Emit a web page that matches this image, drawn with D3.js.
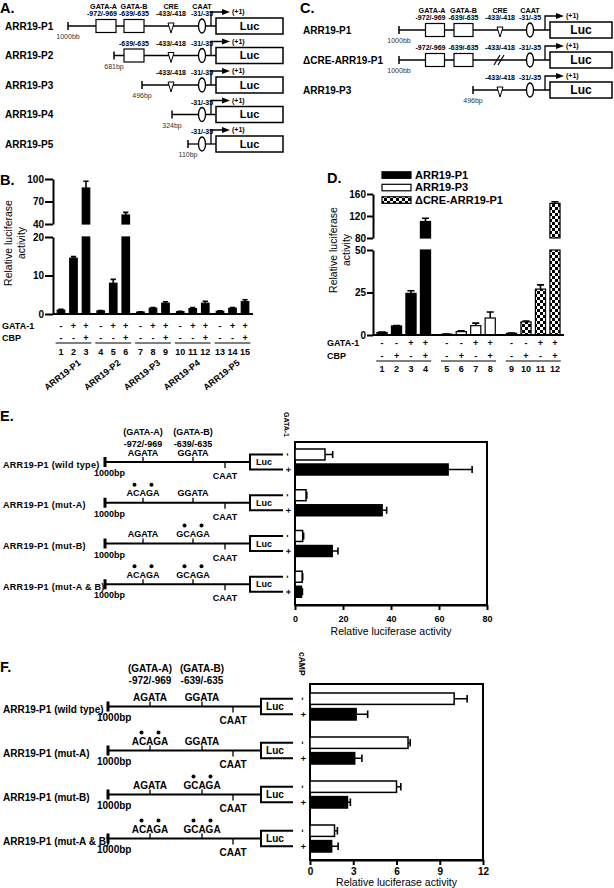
<!DOCTYPE html>
<html>
<head>
<meta charset="utf-8">
<script src="https://cdn.jsdelivr.net/npm/d3@7"></script>
<style>
body { margin: 0; background: #fff; }
svg { display: block; font-family: 'Liberation Sans', Arial, Helvetica, sans-serif; }
</style>
</head>
<body>
<svg id="fig" width="614" height="888"></svg>
<script>
var FONT = "'Liberation Sans', Arial, Helvetica, sans-serif";

// promoter constructs (panels A and C)
var aNames = ['ARR19-P1', 'ARR19-P2', 'ARR19-P3', 'ARR19-P4', 'ARR19-P5'];
var aStarts = [-1000, -681, -496, -324, -110];
var aStartText = ['1000bb', '681bp', '496bp', '324bp', '110bp'];
var cNames = ['ARR19-P1', '\u0394CRE-ARR19-P1', 'ARR19-P3'];
var cStarts = [-1000, -1000, -496];
var cStartText = ['1000bb', '1000bb', '496bp'];
var cCreDeleted = [false, true, false];
var siteNames = ['GATA-A', 'GATA-B', 'CRE', 'CAAT'];
var sitePos = [-970, -637, -425, -33];
var siteCoords = ['-972/-969', '-639/-635', '-433/-418', '-31/-35'];

// panel B
var bGroups = ['ARR19-P1', 'ARR19-P2', 'ARR19-P3', 'ARR19-P4', 'ARR19-P5'];
var bLanes = ['1', '2', '3', '4', '5', '6', '7', '8', '9', '10', '11', '12', '13', '14', '15'];
var bGata = ['-', '+', '+', '-', '+', '+', '-', '+', '+', '-', '+', '+', '-', '+', '+'];
var bCbp = ['-', '-', '+', '-', '-', '+', '-', '-', '+', '-', '-', '+', '-', '-', '+'];
var bValues = [1.0, 14.5, 88, 0.8, 8.0, 52, 0.5, 1.5, 2.8, 0.6, 1.4, 2.8, 0.7, 1.5, 3.2];
var bErrors = [0.2, 0.4, 9, 0.1, 1.0, 3.5, 0.1, 0.2, 0.4, 0.1, 0.3, 0.5, 0.1, 0.2, 0.5];
var bLowTicks = [0, 10, 20];
var bHighTicks = [40, 70, 100];

// panel D
var dSeries = ['ARR19-P1', 'ARR19-P3', '\u0394CRE-ARR19-P1'];
var dLanes = ['1', '2', '3', '4', '5', '6', '7', '8', '9', '10', '11', '12'];
var dGata = ['-', '-', '+', '+', '-', '-', '+', '+', '-', '-', '+', '+'];
var dCbp = ['-', '+', '-', '+', '-', '+', '-', '+', '-', '+', '-', '+'];
var dValues = [1.5, 5.3, 24.5, 110, 0.5, 2.0, 5.5, 10, 1.0, 7.7, 27, 143];
var dErrors = [0.2, 0.3, 1.5, 6, 0.1, 0.4, 1.5, 3.5, 0.2, 0.5, 2.5, 3];
var dLowTicks = [0, 25, 50];
var dHighTicks = [80, 120, 160];

// panels E and F
var mutNames = ['ARR19-P1 (wild type)', 'ARR19-P1 (mut-A)', 'ARR19-P1 (mut-B)', 'ARR19-P1 (mut-A & B)'];
var siteASeq = ['AGATA', 'ACAGA', 'AGATA', 'ACAGA'];
var siteBSeq = ['GGATA', 'GGATA', 'GCAGA', 'GCAGA'];
var eMinus = [12.5, 4.6, 3.2, 3.0];
var eMinusErr = [3.2, 0.3, 0.4, 0.2];
var ePlus = [63.8, 36.3, 15.5, 2.7];
var ePlusErr = [10, 1.9, 2.4, 0.4];
var eTicks = [0, 20, 40, 60, 80];
var fMinus = [10.0, 6.8, 6.0, 1.7];
var fMinusErr = [0.9, 0.15, 0.3, 0.2];
var fPlus = [3.2, 3.1, 2.6, 1.5];
var fPlusErr = [0.8, 0.5, 0.2, 0.45];
var fTicks = [0, 3, 6, 9, 12];

var svg = d3.select('#fig');

function label(g, x, y, s, size, weight, anchor) {
    return g.append('text').attr('x', x).attr('y', y).attr('dy', '0.35em')
        .attr('font-size', size).attr('font-weight', weight || 'bold')
        .attr('text-anchor', anchor || 'start').text(s);
}
function letter(x, y, s) {
    svg.append('text').attr('x', x).attr('y', y).attr('font-size', 14.5)
        .attr('font-weight', 'bold').text(s);
}

var pat = svg.append('defs').append('pattern').attr('id', 'checker')
    .attr('width', 6).attr('height', 6).attr('patternUnits', 'userSpaceOnUse');
pat.append('rect').attr('width', 6).attr('height', 6).attr('fill', '#fff');
pat.append('rect').attr('width', 3).attr('height', 3).attr('fill', '#000');
pat.append('rect').attr('x', 3).attr('y', 3).attr('width', 3).attr('height', 3).attr('fill', '#000');

// ---------- promoter diagrams ----------
function promoter(g, names, starts, startText, creDeleted, x, y, o) {
    names.forEach(function(name, i) {
        var yy = y(name), x0 = x(starts[i]), tss = x(0);
        label(g, o.labelX, yy, name, 10);
        g.append('line').attr('x1', x0).attr('x2', tss + 5).attr('y1', yy).attr('y2', yy)
            .attr('stroke', '#000').attr('stroke-width', 1.3);
        g.append('line').attr('x1', x0).attr('x2', x0).attr('y1', yy - 4).attr('y2', yy + 4)
            .attr('stroke', '#000').attr('stroke-width', 1.5);
        label(g, x0, yy + 11, startText[i], 7, 'normal', 'middle').attr('fill', '#333');
        sitePos.forEach(function(p, k) {
            if (starts[i] > p) return;
            var sx = x(p);
            if (k < 2) {
                g.append('rect').attr('x', sx - o.boxW / 2).attr('y', yy - 6.5)
                    .attr('width', o.boxW).attr('height', 13)
                    .attr('fill', '#fff').attr('stroke', '#000').attr('stroke-width', 1.2);
            } else if (k === 2 && creDeleted[i]) {
                g.append('path')
                    .attr('d', 'M' + (sx - 6) + ',' + (yy + 5) + 'L' + sx + ',' + (yy - 5) +
                        'M' + (sx - 2) + ',' + (yy + 5) + 'L' + (sx + 4) + ',' + (yy - 5))
                    .attr('stroke', '#000').attr('stroke-width', 1.2);
            } else if (k === 2) {
                g.append('path')
                    .attr('d', 'M' + (sx - 3) + ',' + (yy - 3) + 'L' + (sx + 3) + ',' + (yy - 3) + 'L' + sx + ',' + (yy + 7) + 'Z')
                    .attr('fill', '#fff').attr('stroke', '#000').attr('stroke-width', 1);
            } else {
                g.append('ellipse').attr('cx', sx).attr('cy', yy).attr('rx', 3.5).attr('ry', 7)
                    .attr('fill', '#fff').attr('stroke', '#000').attr('stroke-width', 1.3);
            }
            // GATA-A labels sit flush with the box's right edge, the rest are centred
            var lx = k === 0 ? sx + o.boxW / 2 + 1 : sx, anchor = k === 0 ? 'end' : 'middle';
            label(g, lx, yy - 12, siteCoords[k], 7, 'bold', anchor);
            if (i === 0) label(g, lx, yy - 19.5, siteNames[k], 7.2, 'bold', anchor);
        });
        g.append('path').attr('d', 'M' + tss + ',' + yy + 'V' + (yy - 14) + 'H' + (tss + 12))
            .attr('fill', 'none').attr('stroke', '#000').attr('stroke-width', 1.3);
        g.append('path')
            .attr('d', 'M' + (tss + 11) + ',' + (yy - 17) + 'L' + (tss + 19) + ',' + (yy - 14) + 'L' + (tss + 11) + ',' + (yy - 11) + 'Z')
            .attr('fill', '#000');
        label(g, tss + 21, yy - 14, '(+1)', 7, 'bold');
        g.append('rect').attr('x', tss + 5).attr('y', yy - 8)
            .attr('width', o.lucRight - tss - 5).attr('height', 16)
            .attr('fill', '#fff').attr('stroke', '#000').attr('stroke-width', 1.5);
        label(g, (tss + 5 + o.lucRight) / 2, yy, 'Luc', o.lucSize, 'bold', 'middle');
    });
}

letter(0, 13, 'A.');
var aX = d3.scaleLinear()
    .domain([-1000, -970, -681, -637, -496, -425, -324, -110, -33, 0])
    .range([68, 106, 114, 134, 142, 171, 172, 188, 202, 211]);
var aY = d3.scalePoint().domain(aNames).range([26, 144]);
promoter(svg.append('g'), aNames, aStarts, aStartText, aNames.map(function() { return false; }),
    aX, aY, {labelX: 5, boxW: 20, lucRight: 283, lucSize: 11});

letter(300, 13, 'C.');
var cX = d3.scaleLinear()
    .domain([-1000, -970, -637, -496, -425, -33, 0])
    .range([399, 435, 463.5, 473, 500, 530, 545]);
var cY = d3.scalePoint().domain(cNames).range([30, 90]);
promoter(svg.append('g'), cNames, cStarts, cStartText, cCreDeleted,
    cX, cY, {labelX: 303, boxW: 19, lucRight: 612, lucSize: 12});

// ---------- broken-axis bar charts ----------
function brokenBars(g, o) {
    var inner = d3.scaleBand().domain(d3.range(o.perGroup)).range([0, o.groupX.bandwidth()])
        .paddingInner(o.innerPad).paddingOuter(o.innerOuter);
    var bw = inner.bandwidth();
    var cut = o.low.domain()[1], hiBase = o.high.domain()[0];
    function laneX(i) { return o.groupX(o.groups[Math.floor(i / o.perGroup)]) + inner(i % o.perGroup); }

    o.values.forEach(function(v, i) {
        var lx = laneX(i), fill = o.fill(i);
        var lowTop = o.low(Math.min(v, cut));
        g.append('rect').attr('x', lx).attr('width', bw).attr('y', lowTop)
            .attr('height', o.low(0) - lowTop)
            .attr('fill', fill).attr('stroke', '#000').attr('stroke-width', 1.2);
        var top = lowTop, sc = o.low;
        if (v > cut) {
            g.append('rect').attr('x', lx).attr('width', bw).attr('y', o.high(v))
                .attr('height', o.high(hiBase) - o.high(v))
                .attr('fill', fill).attr('stroke', '#000').attr('stroke-width', 1.2);
            top = o.high(v); sc = o.high;
        }
        var et = sc(v + o.errors[i]), cx = lx + bw / 2;
        g.append('path')
            .attr('d', 'M' + cx + ',' + top + 'V' + et + 'M' + (lx + bw * 0.15) + ',' + et + 'H' + (lx + bw * 0.85))
            .attr('stroke', '#000').attr('stroke-width', 1.6);
        label(g, cx, o.rowY[0], o.gata[i], 9, 'bold', 'middle');
        label(g, cx, o.rowY[1], o.cbp[i], 9, 'bold', 'middle');
        label(g, cx, o.rowY[2], o.lanes[i], 9, 'bold', 'middle');
    });

    [[o.low, o.lowTicks], [o.high, o.highTicks]].forEach(function(p) {
        var ax = g.append('g').attr('transform', 'translate(' + o.axisX + ',0)')
            .call(d3.axisLeft(p[0]).tickValues(p[1]).tickSize(o.tickSize).tickSizeOuter(0).tickPadding(1));
        ax.attr('font-family', FONT).attr('font-size', 10).attr('font-weight', 'bold');
        ax.selectAll('.domain, .tick line').attr('stroke-width', 2);
    });
    g.append('line').attr('x1', o.axisX).attr('x2', o.groupX.range()[1])
        .attr('y1', o.low(0)).attr('y2', o.low(0)).attr('stroke', '#000').attr('stroke-width', 2);

    o.groups.forEach(function(name) {
        var gx = o.groupX(name);
        g.append('line').attr('x1', gx).attr('x2', gx + o.groupX.bandwidth())
            .attr('y1', o.rowY[1] + 5).attr('y2', o.rowY[1] + 5)
            .attr('stroke', '#000').attr('stroke-width', 1.2);
    });
    label(g, o.rowLabelX, o.rowY[0], 'GATA-1', 9);
    label(g, o.rowLabelX, o.rowY[1], 'CBP', 9);

    var t = g.append('text').attr('transform', 'translate(' + o.titleX + ',' + o.titleY + ') rotate(-90)')
        .attr('text-anchor', 'middle').attr('font-size', 10.5);
    t.append('tspan').attr('x', 0).attr('y', 0).text('Relative luciferase');
    t.append('tspan').attr('x', 0).attr('y', 13).text('activity');
}

letter(0, 185, 'B.');
var gB = svg.append('g');
var bGroupX = d3.scaleBand().domain(bGroups).range([53, 253]).paddingInner(0.1).paddingOuter(0.065);
brokenBars(gB, {
    groups: bGroups, perGroup: 3, groupX: bGroupX, innerPad: 0.4, innerOuter: 0.13,
    lanes: bLanes, values: bValues, errors: bErrors, gata: bGata, cbp: bCbp,
    low: d3.scaleLinear().domain([0, 20]).range([314, 237]),
    high: d3.scaleLinear().domain([40, 100]).range([224, 179]),
    lowTicks: bLowTicks, highTicks: bHighTicks, axisX: 53, tickSize: 8,
    fill: function() { return '#000'; },
    rowY: [326, 338, 352], rowLabelX: 2, titleX: 12, titleY: 243
});
bGroups.forEach(function(name) {
    var cx = bGroupX(name) + bGroupX.bandwidth() / 2;
    gB.append('text').attr('transform', 'translate(' + (cx + 8) + ',364) rotate(-38)')
        .attr('text-anchor', 'end').attr('font-size', 9).attr('font-weight', 'bold').text(name);
});

letter(327, 183, 'D.');
var gD = svg.append('g');
var dFills = ['#000', '#fff', 'url(#checker)'];
brokenBars(gD, {
    groups: dSeries, perGroup: 4,
    groupX: d3.scaleBand().domain(dSeries).range([373, 564]).paddingInner(0.15).paddingOuter(0.05),
    innerPad: 0.3, innerOuter: 0.05,
    lanes: dLanes, values: dValues, errors: dErrors, gata: dGata, cbp: dCbp,
    low: d3.scaleLinear().domain([0, 50]).range([335, 250]),
    high: d3.scaleLinear().domain([80, 160]).range([238, 194]),
    lowTicks: dLowTicks, highTicks: dHighTicks, axisX: 373, tickSize: 6,
    fill: function(i) { return dFills[Math.floor(i / 4)]; },
    rowY: [343, 356, 369], rowLabelX: 327, titleX: 337, titleY: 250
});
var legY = d3.scalePoint().domain(dSeries).range([175, 200]);
dSeries.forEach(function(name, k) {
    gD.append('rect').attr('x', 382).attr('y', legY(name) - 3.2).attr('width', 29).attr('height', 6.5)
        .attr('fill', dFills[k]).attr('stroke', '#000').attr('stroke-width', 1.2);
    label(gD, 415, legY(name), name, 11);
});

// ---------- mutant constructs with horizontal bars ----------
function mutants(g, o) {
    var fs = o.fs;
    label(g, o.dx(-970), o.headY, '(GATA-A)', fs, 'bold', 'middle');
    label(g, o.dx(-637), o.headY, '(GATA-B)', fs, 'bold', 'middle');
    label(g, o.dx(-970), o.headY + 12, '-972/-969', fs, 'bold', 'middle');
    label(g, o.dx(-637), o.headY + 12, '-639/-635', fs, 'bold', 'middle');

    var x0 = o.x(0), xr = o.x.range()[1], y0 = o.y.range()[0], y1 = o.y.range()[1];
    var bh = o.sub.bandwidth();
    g.append('rect').attr('x', x0).attr('y', y0).attr('width', xr - x0).attr('height', y1 - y0)
        .attr('fill', 'none').attr('stroke', '#000').attr('stroke-width', 2);
    var ax = g.append('g').attr('transform', 'translate(0,' + y1 + ')')
        .call(d3.axisBottom(o.x).tickValues(o.ticks).tickSize(5).tickSizeOuter(0).tickPadding(o.tickPad));
    ax.attr('font-family', FONT).attr('font-size', fs).attr('font-weight', 'bold');
    ax.selectAll('.domain, .tick line').attr('stroke-width', 2);
    label(g, (x0 + xr) / 2, o.titleY, 'Relative luciferase activity', 10.5, 'normal', 'middle');
    g.append('text').attr('transform', 'translate(' + (o.signX - 4) + ',' + o.signTitleY + ') rotate(90)')
        .attr('font-size', o.signTitleSize).attr('font-weight', 'bold').text(o.signTitle);

    mutNames.forEach(function(name, i) {
        var by = o.y(name);
        var top = by + o.sub('-') + bh / 2, bot = by + o.sub('+') + bh / 2, yy = (top + bot) / 2;
        var xs = o.dx(-1000), xt = o.dx(0);
        label(g, 3, yy + 2.5, name, fs, 'bold').attr('letter-spacing', o.spacing);
        g.append('line').attr('x1', xs).attr('x2', xt).attr('y1', yy).attr('y2', yy)
            .attr('stroke', '#000').attr('stroke-width', 2);
        g.append('line').attr('x1', xs).attr('x2', xs).attr('y1', yy - 5).attr('y2', yy + 5)
            .attr('stroke', '#000').attr('stroke-width', 3);
        label(g, xs - 11, yy + 11, '1000bp', fs, 'bold');
        [[siteASeq[i], -970, siteASeq[i] !== siteASeq[0]], [siteBSeq[i], -637, siteBSeq[i] !== siteBSeq[0]]]
            .forEach(function(s) {
                var sx = o.dx(s[1]);
                g.append('line').attr('x1', sx).attr('x2', sx).attr('y1', yy - 5).attr('y2', yy)
                    .attr('stroke', '#000').attr('stroke-width', 1.3);
                label(g, sx, yy - 9.5, s[0], fs, 'bold', 'middle');
                if (s[2]) {
                    [-8.5, 8.5].forEach(function(off) {
                        g.append('circle').attr('cx', sx + off).attr('cy', yy - 18).attr('r', 2).attr('fill', '#000');
                    });
                }
            });
        var cx = o.dx(-33);
        g.append('line').attr('x1', cx).attr('x2', cx).attr('y1', yy).attr('y2', yy + 6)
            .attr('stroke', '#000').attr('stroke-width', 1.3);
        label(g, cx, yy + 14, 'CAAT', fs, 'bold', 'middle');
        g.append('path').attr('d', 'M' + o.bracketEnd + ',' + top + 'H' + xt + 'V' + bot + 'H' + o.bracketEnd)
            .attr('fill', 'none').attr('stroke', '#000').attr('stroke-width', 2);
        label(g, xt + 14, yy, 'Luc', fs, 'bold', 'middle');

        [['-', o.minus[i], o.minusErr[i], '#fff', top], ['+', o.plus[i], o.plusErr[i], '#000', bot]]
            .forEach(function(s) {
                var ry = by + o.sub(s[0]), xv = o.x(s[1]), xe = o.x(s[1] + s[2]);
                g.append('rect').attr('x', x0).attr('y', ry).attr('width', xv - x0).attr('height', bh)
                    .attr('fill', s[3]).attr('stroke', '#000').attr('stroke-width', 1.5);
                g.append('path')
                    .attr('d', 'M' + xv + ',' + s[4] + 'H' + xe + 'M' + xe + ',' + (ry + 2) + 'V' + (ry + bh - 2))
                    .attr('stroke', '#000').attr('stroke-width', 1.6);
                g.append('text').attr('transform', 'translate(' + o.signX + ',' + s[4] + ') rotate(90)')
                    .attr('text-anchor', 'middle').attr('dy', '0.35em')
                    .attr('font-size', 9).attr('font-weight', 'bold').text(s[0]);
            });
    });
}

letter(0, 421, 'E.');
mutants(svg.append('g'), {
    fs: 9, spacing: 0.3, headY: 432,
    dx: d3.scaleLinear().domain([-1000, -970, -637, -33, 0]).range([105, 143, 193, 225, 250]),
    x: d3.scaleLinear().domain([0, 80]).range([295, 487]),
    y: d3.scaleBand().domain(mutNames).range([442, 605]),
    sub: d3.scaleBand().domain(['-', '+']).range([7, 33]).paddingInner(0.27),
    ticks: eTicks, tickPad: 6, titleY: 631,
    minus: eMinus, minusErr: eMinusErr, plus: ePlus, plusErr: ePlusErr,
    signX: 288, signTitle: 'GATA-1', signTitleSize: 7, signTitleY: 412, bracketEnd: 283
});

letter(0, 672, 'F.');
mutants(svg.append('g'), {
    fs: 10, spacing: 0, headY: 668,
    dx: d3.scaleLinear().domain([-1000, -970, -637, -33, 0]).range([108, 150, 202, 233, 261]),
    x: d3.scaleLinear().domain([0, 12]).range([310, 483]),
    y: d3.scaleBand().domain(mutNames).range([684, 860]),
    sub: d3.scaleBand().domain(['-', '+']).range([9, 36]).paddingInner(0.27),
    ticks: fTicks, tickPad: 3, titleY: 882,
    minus: fMinus, minusErr: fMinusErr, plus: fPlus, plusErr: fPlusErr,
    signX: 303, signTitle: 'cAMP', signTitleSize: 8.5, signTitleY: 652, bracketEnd: 293
});
</script>
</body>
</html>
